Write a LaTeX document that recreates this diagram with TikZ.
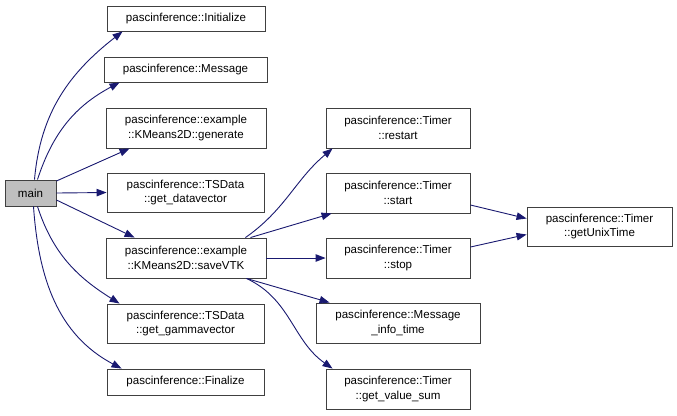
\documentclass[tikz,border=0pt]{standalone}
\usepackage{fontspec}
\setmainfont{Liberation Sans}
\usetikzlibrary{arrows.meta}
\definecolor{edgec}{HTML}{191970}
\definecolor{boxc}{HTML}{404040}
\tikzset{
  fn/.style={draw=boxc, line width=0.9bp, fill=white, rectangle, inner sep=0pt, align=center,
    font=\fontsize{11.6}{14.5}\selectfont},
  edge/.style={draw=edgec, line width=0.9bp, -{Triangle[length=10bp,width=7.5bp]}, fill=none},
}
\begin{document}
\begin{tikzpicture}[x=1bp,y=-1bp]
\useasboundingbox (0,0) rectangle (677,415);
% left column
\node[fn, fill=black!25, minimum width=51bp, minimum height=26bp] (main) at (30.5,193) {main};
\node[fn, minimum width=158bp, minimum height=25bp] (init) at (186,18.5) {pascinference::Initialize};
\node[fn, minimum width=163bp, minimum height=25bp] (msg) at (185.5,69.5) {pascinference::Message};
\node[fn, minimum width=160bp, minimum height=40bp] (gen) at (186,128) {pascinference::example\\::KMeans2D::generate};
\node[fn, minimum width=157bp, minimum height=39bp] (datav) at (185.5,192.5) {pascinference::TSData\\::get\_datavector};
\node[fn, minimum width=160bp, minimum height=40bp] (save) at (186,258) {pascinference::example\\::KMeans2D::saveVTK};
\node[fn, minimum width=157bp, minimum height=39bp] (gammav) at (185.5,323.5) {pascinference::TSData\\::get\_gammavector};
\node[fn, minimum width=157bp, minimum height=26bp] (fin) at (185.5,382) {pascinference::Finalize};
% middle column
\node[fn, minimum width=144bp, minimum height=40bp] (restart) at (398,128) {pascinference::Timer\\::restart};
\node[fn, minimum width=144bp, minimum height=40bp] (start) at (398,193) {pascinference::Timer\\::start};
\node[fn, minimum width=144bp, minimum height=40bp] (stop) at (398,258) {pascinference::Timer\\::stop};
\node[fn, minimum width=164bp, minimum height=40bp] (info) at (398,323) {pascinference::Message\\\_info\_time};
\node[fn, minimum width=144bp, minimum height=40bp] (vsum) at (398,389) {pascinference::Timer\\::get\_value\_sum};
% right column
\node[fn, minimum width=145bp, minimum height=39bp] (unix) at (599.5,226.5) {pascinference::Timer\\::getUnixTime};
% edges from main
\draw[edge] ([xshift=4bp]main.north) to[out=85,in=218] ([xshift=16bp]init.south west);
\draw[edge] ([xshift=7bp]main.north) to[out=72,in=208] ([xshift=16bp]msg.south west);
\draw[edge] ([yshift=12bp]main.east) -- ([xshift=24bp]gen.south west);
\draw[edge] (main.east) -- (datav.west);
\draw[edge] ([yshift=-7bp]main.east) -- ([xshift=29bp]save.north west);
\draw[edge] ([xshift=7bp]main.south) to[out=-72,in=148] ([xshift=13bp]gammav.north west);
\draw[edge] ([xshift=3bp]main.south) to[out=-86,in=152] ([xshift=15bp]fin.north west);
% edges from saveVTK
\draw[edge] ([xshift=-21bp]save.north east) to[out=35,in=220] ([xshift=7bp]restart.south west);
\draw[edge] ([xshift=-16bp]save.north east) -- ([xshift=6bp]start.south west);
\draw[edge] (save.east) -- (stop.west);
\draw[edge] ([xshift=-20bp]save.south east) -- ([xshift=14bp]info.north west);
\draw[edge] ([xshift=-20bp]save.south east) to[out=-25,in=145] ([xshift=7bp]vsum.north west);
% edges to getUnixTime
\draw[edge] ([yshift=-12bp]start.east) -- ([yshift=8bp]unix.west);
\draw[edge] ([yshift=11bp]stop.east) -- ([yshift=-8bp]unix.west);
\end{tikzpicture}
\end{document}
